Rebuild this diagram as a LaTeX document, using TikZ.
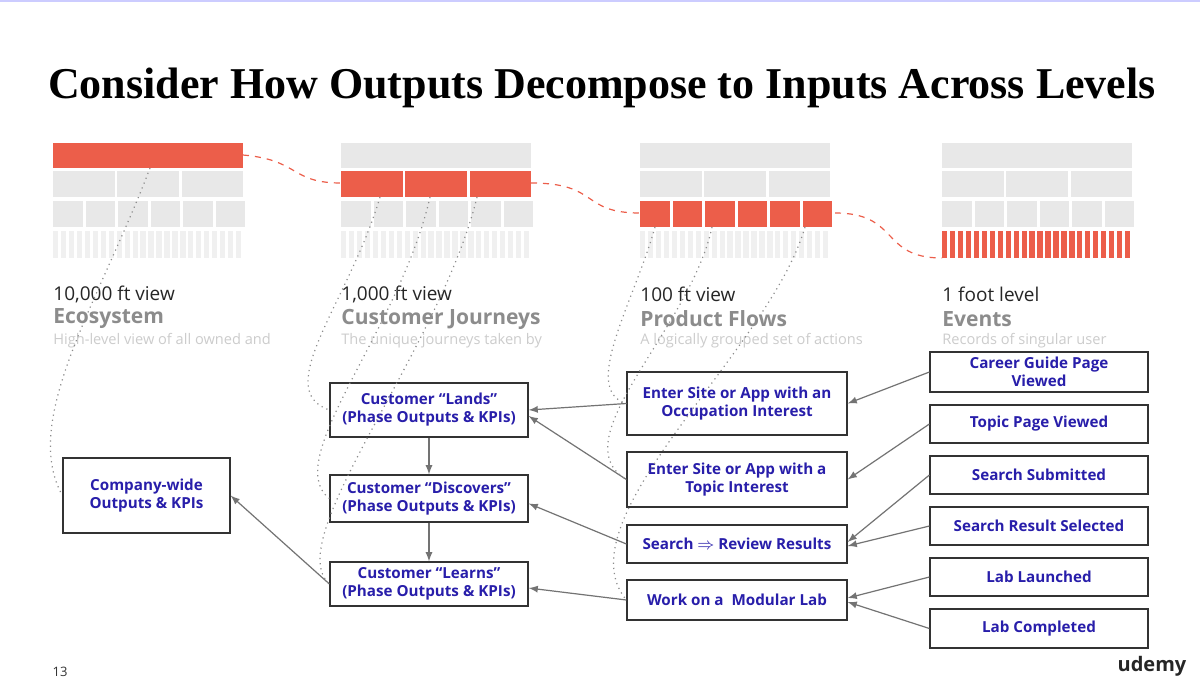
\documentclass[tikz,border=0pt]{standalone}
\usepackage{fontspec}
\setmainfont{Open Sans}
\newfontfamily\titlefont{Liberation Serif}
\definecolor{rd}{RGB}{236,94,74}
\definecolor{bx}{RGB}{40,30,170}
\begin{document}
\begin{tikzpicture}[x=0.5pt,y=-0.5pt,
 gcell/.style={fill=black!9,draw=none},
 gcellL/.style={fill=black!6,draw=none},
 rcell/.style={fill=rd,draw=none},
 box/.style={draw=black!80,line width=0.6pt,fill=white,align=center,text=bx,font=\fontsize{7.6}{9}\selectfont\bfseries,inner sep=0pt},
 bw/.style={minimum width=#1*0.5pt},
 bh/.style={minimum height=#1*0.5pt},
 arr/.style={-latex,draw=black!55,line width=0.6pt},
 dot/.style={draw=black!45,dotted,line width=0.6pt},
 rdash/.style={draw=rd,dashed,line width=0.6pt}]
\useasboundingbox (0,0) rectangle (1200,691);
\fill[white] (0,0) rectangle (1200,691);
\draw[blue!20,line width=1pt] (0,0.5) -- (1200,0.5);
\node[font=\titlefont\fontsize{22}{26}\selectfont\bfseries] (title) at (602,88) {Consider How Outputs Decompose to Inputs Across Levels};
% mockups
\foreach \x/\r [count=\i] in {53/1,341/2,640/3,942/4}{
  \ifnum\r=1 \def\st{rcell}\else\def\st{gcell}\fi
  \fill[\st] (\x,143) rectangle ++(190,25);
  \ifnum\r=2 \def\st{rcell}\else\def\st{gcell}\fi
  \foreach \k in {0,1,2}{\fill[\st] (\x+\k*64.3,171) rectangle ++(61.5,26);}
  \ifnum\r=3 \def\st{rcell}\else\def\st{gcell}\fi
  \foreach \k in {0,1,2,3,4,5}{\fill[\st] (\x+\k*32.5,201) rectangle ++(29.5,26);}
  \ifnum\r=4 \def\st{rcell}\else\def\st{gcellL}\fi
  \foreach \k in {0,...,23}{\fill[\st] (\x+\k*7.95,231) rectangle ++(5.3,27);}
}
\coordinate (m1) at (243,155); \coordinate (m2a) at (341,183);
\coordinate (m2b) at (531,183); \coordinate (m3a) at (640,213);
\coordinate (m3b) at (835,213); \coordinate (m4a) at (942,258);
\draw[rdash] (m1) .. controls (300,160) and (290,183) .. (m2a);
\draw[rdash] (m2b) .. controls (600,183) and (580,213) .. (m3a);
\draw[rdash] (m3b) .. controls (900,213) and (880,258) .. (m4a);
% level labels
\foreach \x/\a/\b/\c [count=\i] in {53/{10,000 ft view}/Ecosystem/{High-level view of all owned and},341/{1,000 ft view}/{Customer Journeys}/{The unique journeys taken by},640/{100 ft view}/{Product Flows}/{A logically grouped set of actions},942/{1 foot level}/Events/{Records of singular user}}{
 \node[anchor=west,font=\fontsize{9.5}{11}\selectfont,text=black!85,inner sep=0] (la\i) at (\x,294) {\a};
 \node[anchor=west,font=\fontsize{10.5}{12}\selectfont\bfseries,text=black!45,inner sep=0] (lb\i) at (\x,319) {\b};
 \node[anchor=west,font=\fontsize{7.3}{9}\selectfont,text=black!20,inner sep=0] (lc\i) at (\x,341) {\c};
}
% boxes
\node[box,bw=167,bh=75] (cw) at (146.5,495.5) {Company-wide\\Outputs \& KPIs};
\node[box,bw=198,bh=54] (la) at (429,410) {Customer “Lands”\\(Phase Outputs \& KPIs)};
\node[box,bw=198,bh=47] (di) at (429,498.5) {Customer “Discovers”\\(Phase Outputs \& KPIs)};
\node[box,bw=198,bh=44] (le) at (429,584) {Customer “Learns”\\(Phase Outputs \& KPIs)};
\node[box,bw=220,bh=63] (oc) at (737,403.5) {Enter Site or App with an\\Occupation Interest};
\node[box,bw=220,bh=55] (to) at (737,479.5) {Enter Site or App with a\\Topic Interest};
\node[box,bw=220,bh=38] (se) at (737,544) {Search $\Rightarrow$ Review Results};
\node[box,bw=220,bh=40] (lab) at (737,600) {Work on a\ \ Modular Lab};
\node[box,bw=218,bh=40] (e1) at (1039,372) {Career Guide Page\\Viewed};
\node[box,bw=218,bh=38] (e2) at (1039,424) {Topic Page Viewed};
\node[box,bw=218,bh=38] (e3) at (1039,475) {Search Submitted};
\node[box,bw=218,bh=38] (e4) at (1039,526) {Search Result Selected};
\node[box,bw=218,bh=38] (e5) at (1039,577) {Lab Launched};
\node[box,bw=218,bh=39] (e6) at (1039,628.5) {Lab Completed};
% arrows
\draw[arr] (e1.west) -- (oc.east);
\draw[arr] (e2.west) -- (to.east);
\draw[arr] (e3.west) -- ([yshift=1pt]se.east);
\draw[arr] (e4.west) -- ([yshift=-1pt]se.east);
\draw[arr] (e5.west) -- ([yshift=1pt]lab.east);
\draw[arr] (e6.west) -- ([yshift=-1pt]lab.east);
\draw[arr] (oc.west) -- (la.east);
\draw[arr] (to.west) -- ([yshift=-3pt]la.east);
\draw[arr] (se.west) -- ([yshift=-2.5pt]di.east);
\draw[arr] (lab.west) -- ([yshift=-2pt]le.east);
\draw[arr] (la) -- (di);
\draw[arr] (di) -- (le);
\draw[arr] (le.west) -- (cw.east);
% dotted
\draw[dot] (150,168) .. controls (100,300) and (20,420) .. (cw.west);
\draw[dot] (380,197) .. controls (350,300) and (270,390) .. (la.west);
\draw[dot] (430,197) .. controls (400,330) and (280,460) .. (di.west);
\draw[dot] (477,197) .. controls (440,350) and (280,540) .. (le.west);
\draw[dot] (655,227) .. controls (635,300) and (580,390) .. (oc.west);
\draw[dot] (712,227) .. controls (690,330) and (560,440) .. (to.west);
\draw[dot] (805,227) .. controls (770,350) and (560,520) .. (lab.west);
% footer
\node[font=\fontsize{6.5}{8}\selectfont,text=black!80] (pg) at (60,672) {13};
\node[font=\fontsize{10}{12}\selectfont\bfseries,text=black!85] (ud) at (1152,666) {udemy};
\end{tikzpicture}
\end{document}
